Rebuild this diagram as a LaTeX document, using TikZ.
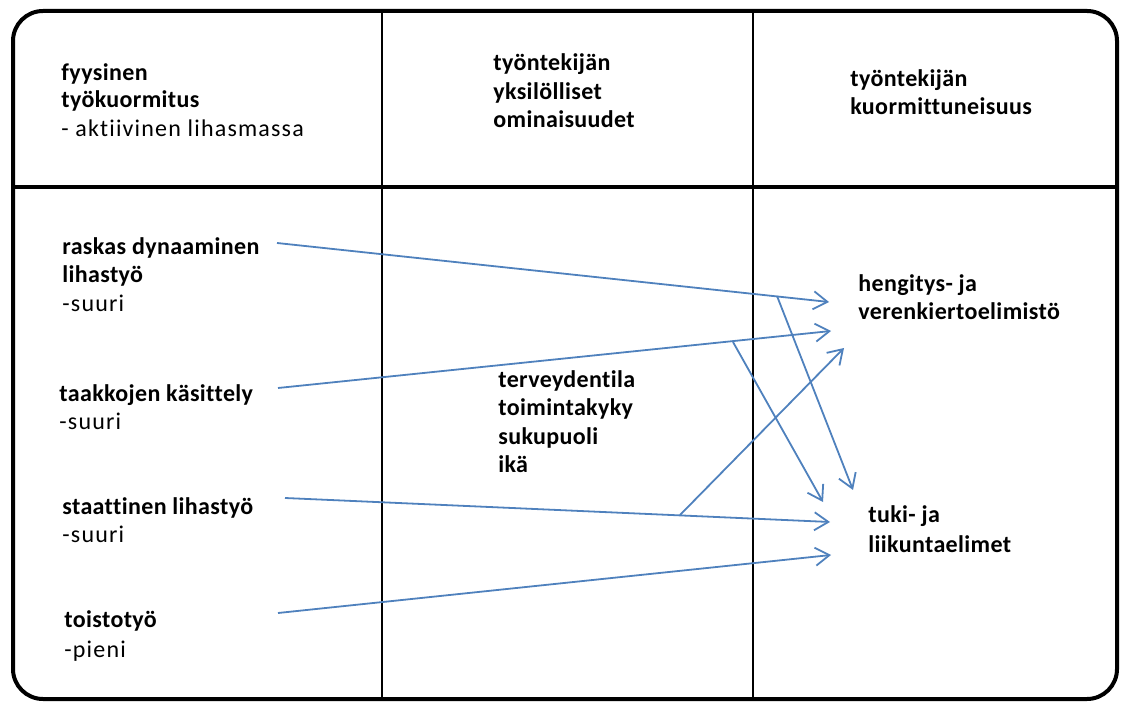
\documentclass[tikz,border=0pt]{standalone}
\usepackage{fontspec}
\setmainfont{Carlito}[Ligatures=NoCommon]
\usetikzlibrary{arrows.meta}
\definecolor{arrowblue}{RGB}{79,129,189}
\tikzset{
  lbl/.style={anchor=base west, inner sep=0pt, font=\fontsize{12}{14}\selectfont\bfseries\addfontfeatures{LetterSpace=1.5}},
  sub/.style={anchor=base west, inner sep=0pt, font=\fontsize{12}{14}\selectfont\addfontfeatures{LetterSpace=5}},
  link/.style={draw=arrowblue, line width=0.9pt},
  arr/.style={link, -{Straight Barb[length=7pt,width=9pt,line width=0.9pt]}},
  frame/.style={line width=2pt},
  divider/.style={line width=1pt}
}
\begin{document}
\begin{tikzpicture}[x=0.5pt,y=-0.5pt]
\useasboundingbox (0,0) rectangle (1122,704);
% frame
\draw[frame, rounded corners=15pt] (13,11) rectangle (1117,699);
\draw[frame] (13,187) -- (1117,187);
\draw[divider] (382,11) -- (382,699);
\draw[divider] (753,11) -- (753,699);
% headers
\node[lbl] (h1a) at (61,81) {fyysinen};
\node[lbl] (h1b) at (61,108) {työkuormitus};
\node[sub] (h1c) at (61,137) {- aktiivinen lihasmassa};
\node[lbl] (h2a) at (493,71) {työntekijän};
\node[lbl] (h2b) at (493,100) {yksilölliset};
\node[lbl] (h2c) at (493,128) {ominaisuudet};
\node[lbl] (h3a) at (850,87) {työntekijän};
\node[lbl] (h3b) at (850,115) {kuormittuneisuus};
% left column
\node[lbl] (l1a) at (62,255) {raskas dynaaminen};
\node[lbl] (l1b) at (62,283) {lihastyö};
\node[sub] (l1c) at (62,312) {-suuri};
\node[lbl] (l2a) at (59,402) {taakkojen käsittely};
\node[sub] (l2b) at (59,430) {-suuri};
\node[lbl] (l3a) at (62,514) {staattinen lihastyö};
\node[sub] (l3b) at (62,542) {-suuri};
\node[lbl] (l4a) at (64,627) {toistotyö};
\node[sub] (l4b) at (64,657) {-pieni};
% middle
\node[lbl] (m1) at (498,388) {terveydentila};
\node[lbl] (m2) at (498,416) {toimintakyky};
\node[lbl] (m3) at (498,445) {sukupuoli};
\node[lbl] (m4) at (498,473) {ikä};
% right
\node[lbl] (r1a) at (858,292) {hengitys- ja};
\node[lbl] (r1b) at (858,320) {verenkiertoelimistö};
\node[lbl] (r2a) at (868,523) {tuki- ja};
\node[lbl] (r2b) at (868,552) {liikuntaelimet};
% connector points
\coordinate (s1) at (277,243);
\coordinate (s2) at (278,388);
\coordinate (s3) at (285,498);
\coordinate (s4) at (278,613);
\coordinate (b1) at (777,296);
\coordinate (b2) at (733,342);
\coordinate (b3) at (680,515);
\coordinate (t1) at (829,302);
\coordinate (t2) at (831,331);
\coordinate (t3) at (844,348);
\coordinate (t4) at (853,490);
\coordinate (t5) at (823,502);
\coordinate (t6) at (830,522);
\coordinate (t7) at (831,555);
% arrows
\draw[arr] (s1) -- (t1);
\draw[arr] (b1) -- (t4);
\draw[arr] (s2) -- (t2);
\draw[arr] (b2) -- (t5);
\draw[arr] (s3) -- (t6);
\draw[arr] (b3) -- (t3);
\draw[arr] (s4) -- (t7);
\end{tikzpicture}
\end{document}
